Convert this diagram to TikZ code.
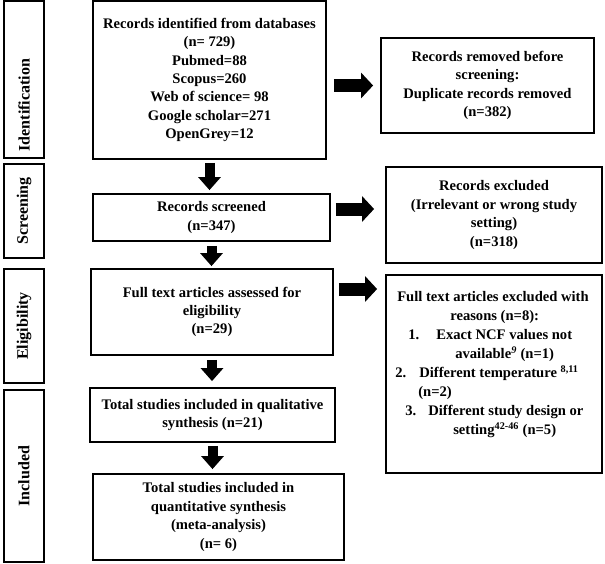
\documentclass[tikz,border=0pt]{standalone}
\usepackage{fontspec}
\setmainfont{Liberation Serif}
\usetikzlibrary{arrows.meta,calc}

\tikzset{
  box/.style={draw, line width=1.8pt, align=center, inner sep=2pt,
    font=\fontsize{14.6}{18.4}\selectfont\bfseries},
  phase/.style={draw, line width=1.8pt, rotate=90, minimum height=40pt,
    inner sep=0pt, font=\fontsize{16}{18}\selectfont\bfseries},
  downarrow/.style={line width=10pt, -{Triangle[width=22pt,length=13pt]}},
  sidearrow/.style={line width=13pt, -{Triangle[width=25pt,length=12pt]}}
}

\begin{document}
\begin{tikzpicture}[x=1pt,y=1pt,yscale=-1]
  \useasboundingbox (0,0) rectangle (605,563);

  % Phase labels
  \node[phase, minimum width=157pt] (idl) at (24,79.5) {Identification\hspace*{51pt}};
  \node[phase, minimum width=94pt] (scl) at (24,211) {Screening};
  \node[phase, minimum width=114pt] (ell) at (24,326) {Eligibility};
  \node[phase, minimum width=172pt] (inl) at (24,476) {Included};

  % Main column
  \node[box, minimum width=233pt, minimum height=158pt] (ident) at (209.5,80)
    {Records identified from databases\\(n= 729)\\Pubmed=88\\Scopus=260\\Web of science= 98\\Google scholar=271\\OpenGrey=12};
  \node[box, minimum width=237pt, minimum height=47pt] (screen) at (211.5,217.5)
    {Records screened\\(n=347)};
  \node[box, minimum width=242pt, minimum height=86pt] (full) at (212,312)
    {Full text articles assessed for\\eligibility\\(n=29)};
  \node[box, minimum width=245pt, minimum height=54pt] (quali) at (212.5,415)
    {Total studies included in qualitative\\synthesis (n=21)};
  \node[box, minimum width=251pt, minimum height=86pt] (quanti) at (218.5,517)
    {Total studies included in\\quantitative synthesis\\(meta-analysis)\\(n= 6)};

  % Side column
  \node[box, minimum width=213pt, minimum height=95pt] (removed) at (487.5,85.5)
    {Records removed before\\screening:\\Duplicate records removed\\(n=382)};
  \node[box, minimum width=216pt, minimum height=96pt] (excl) at (494,215)
    {Records excluded\\(Irrelevant or wrong study\\setting)\\(n=318)};
  \node[box, minimum width=216pt, minimum height=198pt] (fullex) at (494,374) {};
  \node[anchor=north west, inner sep=0pt, text width=216pt, align=flush left,
    font=\fontsize{14.6}{19}\selectfont\bfseries] (fullextxt) at ($(fullex.north west)+(0,17)$)
    {\hspace*{12pt}Full text articles excluded with\\
     \hspace*{65pt}reasons (n=8):\\
     \hspace*{23pt}\makebox[28pt][l]{1.}Exact NCF values not\\
     \hspace*{70pt}available\textsuperscript{\itshape 9} (n=1)\\
     \hspace*{10pt}\makebox[24pt][l]{2.}Different temperature \textsuperscript{8,11}\\
     \hspace*{33pt}(n=2)\\
     \hspace*{20pt}\makebox[23pt][l]{3.}Different study design or\\
     \hspace*{68pt}setting\textsuperscript{42-46} (n=5)};

  % Down arrows
  \draw[downarrow, shorten <=3pt, shorten >=3pt] (ident.south) -- (ident.south |- screen.north);
  \draw[downarrow, shorten <=4pt, shorten >=2pt] (screen.south) -- (screen.south |- full.north);
  \draw[downarrow, shorten <=4pt, shorten >=6pt] (full.south) -- (full.south |- quali.north);
  \draw[downarrow, shorten <=3pt, shorten >=4pt] (quali.south) -- (quali.south |- quanti.north);

  % Side arrows
  \draw[sidearrow, shorten <=7pt, shorten >=7pt] (ident.east |- removed.west) -- (removed.west);
  \draw[sidearrow, shorten <=5pt, shorten >=11pt] ($(screen.east)+(0,-8.5)$) -- ($(screen.east -| excl.west)+(0,-8.5)$);
  \draw[sidearrow, shorten <=5pt, shorten >=8pt] ($(full.east)+(0,-23)$) -- ($(full.east -| fullex.west)+(0,-23)$);
\end{tikzpicture}
\end{document}
